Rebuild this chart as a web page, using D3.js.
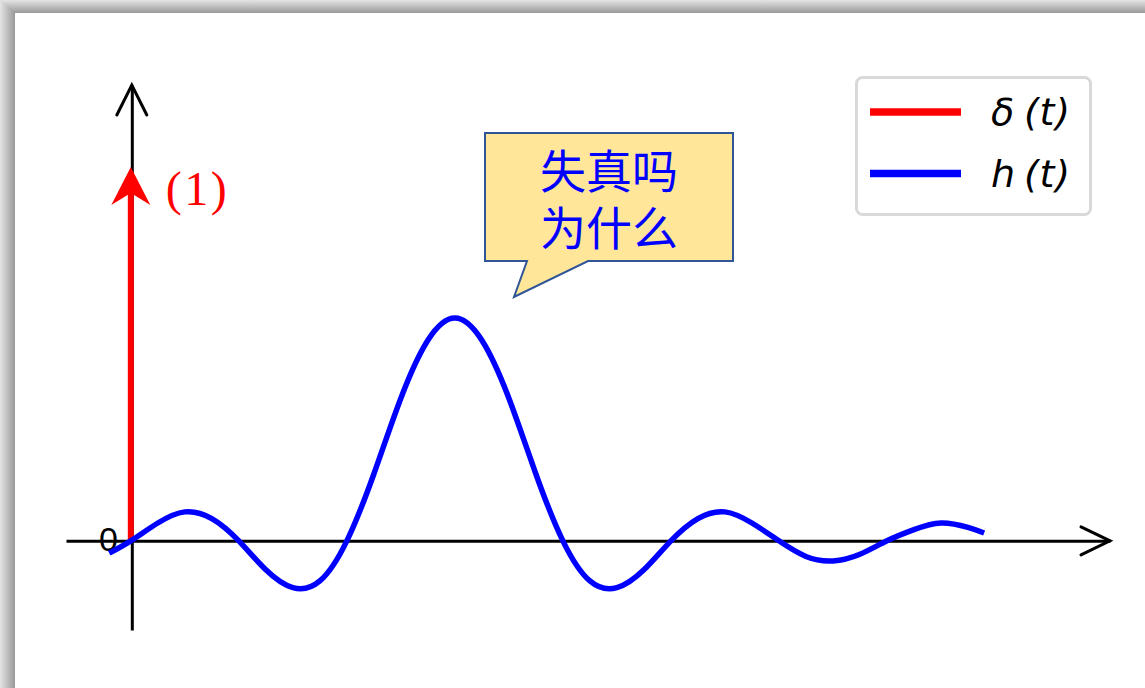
<!DOCTYPE html>
<html>
<head>
<meta charset="utf-8">
<script src="https://cdn.jsdelivr.net/npm/d3@7"></script>
<style>
  html, body { margin: 0; padding: 0; background: #ffffff; }
  svg { display: block; }
</style>
</head>
<body>
<svg id="chart" width="1145" height="688"></svg>
<script>
// Impulse response h(t) sampled along t
const tValues = [-0.2, 0, 0.25, 0.5, 0.75, 1, 1.25, 1.5, 1.75, 2, 2.25, 2.5, 2.75, 3,
                 3.25, 3.5, 3.75, 4, 4.25, 4.5, 4.75, 5, 5.25, 5.5, 5.75, 6,
                 6.25, 6.5, 6.75, 7, 7.25, 7.5, 7.75, 7.9];
const hValues = [-0.055, 0, 0.08, 0.13, 0.10, 0, -0.13, -0.21, -0.18, 0, 0.30, 0.64, 0.90, 1.0,
                 0.90, 0.64, 0.30, 0, -0.18, -0.21, -0.13, 0, 0.10, 0.13, 0.08, 0,
                 -0.07, -0.09, -0.06, 0, 0.05, 0.08, 0.06, 0.035];

// Unit impulse δ(t) at t = 0 with weight 1
const deltaT = 0;
const deltaWeight = 1;
const deltaLabel = "(1)";

const legendItems = [
  { sym: "δ", arg: "(t)", color: "#ff0000" },
  { sym: "h", arg: "(t)", color: "#0000ff" }
];
const calloutLines = ["失真吗", "为什么"];
const originLabel = "0";

const svg = d3.select("#chart");
const W = 1145, H = 688;

// ---- panel frame with soft shadow on top/left ----
const defs = svg.append("defs");
const gTop = defs.append("linearGradient").attr("id", "shTop")
  .attr("x1", 0).attr("y1", 0).attr("x2", 0).attr("y2", 1);
gTop.append("stop").attr("offset", "0%").attr("stop-color", "#e4e4e4");
gTop.append("stop").attr("offset", "100%").attr("stop-color", "#999999");
const gLeft = defs.append("linearGradient").attr("id", "shLeft")
  .attr("x1", 0).attr("y1", 0).attr("x2", 1).attr("y2", 0);
gLeft.append("stop").attr("offset", "0%").attr("stop-color", "#e4e4e4");
gLeft.append("stop").attr("offset", "100%").attr("stop-color", "#999999");

svg.append("rect").attr("x", 0).attr("y", 0).attr("width", W).attr("height", H).attr("fill", "#ffffff");
svg.append("rect").attr("x", 0).attr("y", 0).attr("width", W).attr("height", 13).attr("fill", "url(#shTop)");
svg.append("rect").attr("x", 0).attr("y", 0).attr("width", 15).attr("height", H).attr("fill", "url(#shLeft)");
svg.append("path").attr("d", "M0,0 L15,0 L15,13 Z").attr("fill", "url(#shTop)");

// ---- scales ----
const x = d3.scaleLinear().domain([-0.6, 9.065]).range([66, 1110]);
const y = d3.scaleLinear().domain([-0.4, 2.045]).range([630, 85]);
// impulse arrows are drawn on their own height scale
const yDelta = d3.scaleLinear().domain([0, deltaWeight]).range([y(0), 167]);

// ---- axes ----
const axisColor = "#000000";
const xAxis = svg.append("g").attr("transform", `translate(0,${y(0)})`)
  .call(d3.axisBottom(x).tickValues([]).tickSizeOuter(0));
xAxis.select(".domain").attr("stroke", axisColor).attr("stroke-width", 3);

const yAxis = svg.append("g").attr("transform", `translate(${x(0) + 1},0)`)
  .call(d3.axisLeft(y).tickValues([]).tickSizeOuter(0));
yAxis.select(".domain").attr("stroke", axisColor).attr("stroke-width", 3);

// open arrowheads at the axis ends
const xEnd = x.range()[1], yTop = y.range()[1];
svg.append("path")
  .attr("d", `M${xEnd - 29},${y(0) - 14} L${xEnd},${y(0)} L${xEnd - 29},${y(0) + 14}`)
  .attr("fill", "none").attr("stroke", axisColor).attr("stroke-width", 3)
  .attr("stroke-linecap", "round").attr("stroke-linejoin", "miter");
svg.append("path")
  .attr("d", `M${x(0) + 1 - 15},${yTop + 30} L${x(0) + 1},${yTop} L${x(0) + 1 + 15},${yTop + 30}`)
  .attr("fill", "none").attr("stroke", axisColor).attr("stroke-width", 3)
  .attr("stroke-linecap", "round").attr("stroke-linejoin", "miter");

svg.append("text")
  .attr("x", x(0) - 13).attr("y", y(0) + 10)
  .attr("text-anchor", "end")
  .attr("font-family", "Liberation Sans, Arial, sans-serif")
  .attr("font-size", 34)
  .attr("fill", "#000")
  .text(originLabel);

// ---- impulse δ(t) ----
const dx = x(deltaT), tipY = yDelta(deltaWeight);
svg.append("line")
  .attr("x1", dx).attr("x2", dx)
  .attr("y1", yDelta(0)).attr("y2", tipY + 20)
  .attr("stroke", "#ff0000").attr("stroke-width", 6);
svg.append("path")
  .attr("d", `M${dx},${tipY} L${dx + 19.5},${tipY + 38} L${dx},${tipY + 26} L${dx - 19.5},${tipY + 38} Z`)
  .attr("fill", "#ff0000");
svg.append("text")
  .attr("x", dx + 35).attr("y", tipY + 38)
  .attr("font-family", "Liberation Serif, Times New Roman, serif")
  .attr("font-size", 48)
  .attr("letter-spacing", 2.5)
  .attr("fill", "#ff0000")
  .text(deltaLabel);

// ---- response h(t) ----
const hData = tValues.map((t, i) => ({ t, v: hValues[i] }));
const line = d3.line()
  .x(d => x(d.t))
  .y(d => y(d.v))
  .curve(d3.curveNatural);
svg.append("path")
  .datum(hData)
  .attr("d", line)
  .attr("fill", "none")
  .attr("stroke", "#0000ff")
  .attr("stroke-width", 5.5)
  .attr("stroke-linejoin", "round");

// ---- callout ----
svg.append("path")
  .attr("d", "M485,133 L733,133 L733,261 L588,261 L514,297 L527,261 L485,261 Z")
  .attr("fill", "#ffe699")
  .attr("stroke", "#2f5597")
  .attr("stroke-width", 2)
  .attr("stroke-linejoin", "miter");
const callout = svg.append("text")
  .attr("text-anchor", "middle")
  .attr("font-family", "Noto Sans CJK SC, sans-serif")
  .attr("font-size", 46)
  .attr("fill", "#0000ff");
callout.selectAll("tspan")
  .data(calloutLines)
  .join("tspan")
  .attr("x", 609)
  .attr("y", (d, i) => 188 + i * 57)
  .text(d => d);

// ---- legend ----
const lg = svg.append("g");
lg.append("rect")
  .attr("x", 856.5).attr("y", 77.5).attr("width", 234).attr("height", 137)
  .attr("rx", 6).attr("ry", 6)
  .attr("fill", "#ffffff").attr("stroke", "#d9d9d9").attr("stroke-width", 3);
const rows = lg.selectAll("g.item").data(legendItems).join("g")
  .attr("class", "item")
  .attr("transform", (d, i) => `translate(0,${112 + i * 61.5})`);
rows.append("line")
  .attr("x1", 870).attr("x2", 961).attr("y1", 0).attr("y2", 0)
  .attr("stroke", d => d.color).attr("stroke-width", 7.5);
rows.append("text")
  .attr("x", 991).attr("y", 13)
  .attr("font-family", "DejaVu Sans, sans-serif")
  .attr("font-style", "italic")
  .attr("font-size", 38)
  .attr("fill", "#000")
  .text(d => d.sym);
rows.append("text")
  .attr("x", 1024).attr("y", 13)
  .attr("font-family", "DejaVu Sans, sans-serif")
  .attr("font-style", "italic")
  .attr("font-size", 38)
  .attr("textLength", 46)
  .attr("fill", "#000")
  .text(d => d.arg);
</script>
</body>
</html>
